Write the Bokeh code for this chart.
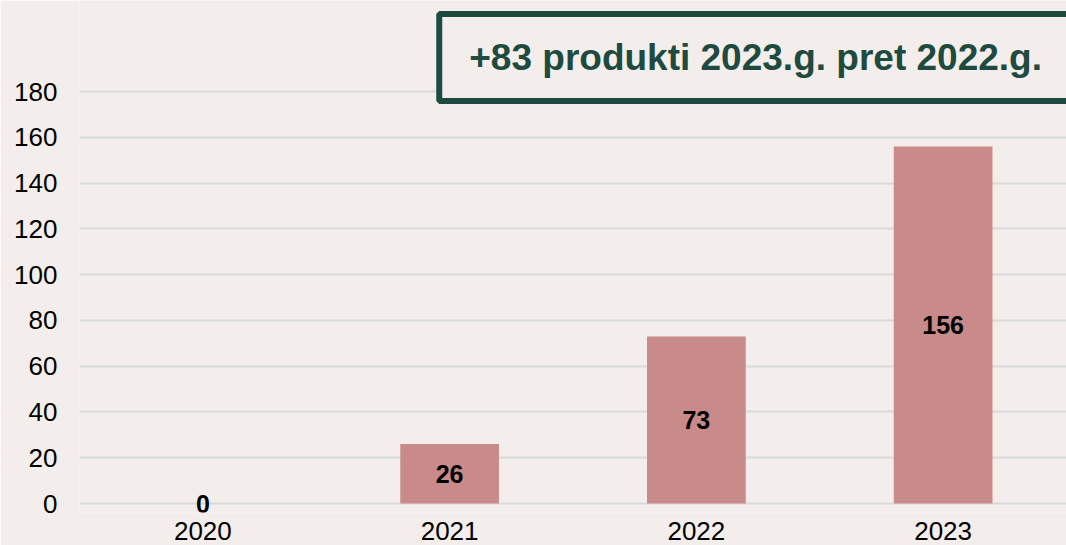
from bokeh.plotting import figure
from bokeh.models import ColumnDataSource, LabelSet, Label, Range1d, FixedTicker, FactorRange
from bokeh.core.properties import value
from bokeh.embed import file_html
from bokeh.resources import INLINE

years = ["2020", "2021", "2022", "2023"]
products = [0, 26, 73, 156]
y_ticks = [0, 20, 40, 60, 80, 100, 120, 140, 160, 180]
note = "+83 produkti 2023.g. pret 2022.g."

BG = "#F3EEEB"
BAR = "#C98A8A"
GREEN = "#1E4A40"
FONT = "Liberation Sans"

src = ColumnDataSource(dict(
    year=years,
    value=products,
    mid=[v / 2 for v in products],
    txt=[str(v) for v in products],
))

p = figure(
    x_range=FactorRange(*years, range_padding=0),
    y_range=Range1d(-3.93, 219.8),
    width=1066, height=545,
    output_backend="svg", toolbar_location=None,
    min_border_left=79, min_border_right=0, min_border_top=0, min_border_bottom=33,
    background_fill_color=BG, border_fill_color=BG, outline_line_color=None,
)

p.vbar(x="year", top="value", bottom=0, width=0.4, source=src,
       fill_color=BAR, line_color=None)

labels = LabelSet(x="year", y="mid", text="txt", source=src,
                  text_align="center", text_baseline="middle",
                  text_font=value(FONT), text_font_style="bold", text_font_size="25px",
                  text_color="#000000")
p.add_layout(labels)

note_label = Label(x=2.74, y=194.9, text=note,
                   text_align="center", text_baseline="middle",
                   text_font=FONT, text_font_style="bold", text_font_size="37px",
                   text_color=GREEN,
                   border_line_color=GREEN, border_line_width=6,
                   background_fill_color=BG,
                   padding=dict(left=30, right=30, top=23, bottom=23))
p.add_layout(note_label)

p.xgrid.grid_line_color = None
p.ygrid.grid_line_color = "#D9D9D9"
p.ygrid.grid_line_width = 2
p.yaxis.ticker = FixedTicker(ticks=y_ticks)

for ax in (p.xaxis[0], p.yaxis[0]):
    ax.axis_line_color = None
    ax.major_tick_line_color = None
    ax.minor_tick_line_color = None
    ax.major_tick_out = 0
    ax.major_tick_in = 0
    ax.minor_tick_out = 0
    ax.minor_tick_in = 0
    ax.major_label_text_font = FONT
    ax.major_label_text_font_size = "26px"
    ax.major_label_text_color = "#000000"

p.yaxis.major_label_standoff = 22
p.xaxis.major_label_text_line_height = 0.8
p.xaxis.major_label_standoff = 9

open("out.html", "w").write(file_html(p, INLINE))
